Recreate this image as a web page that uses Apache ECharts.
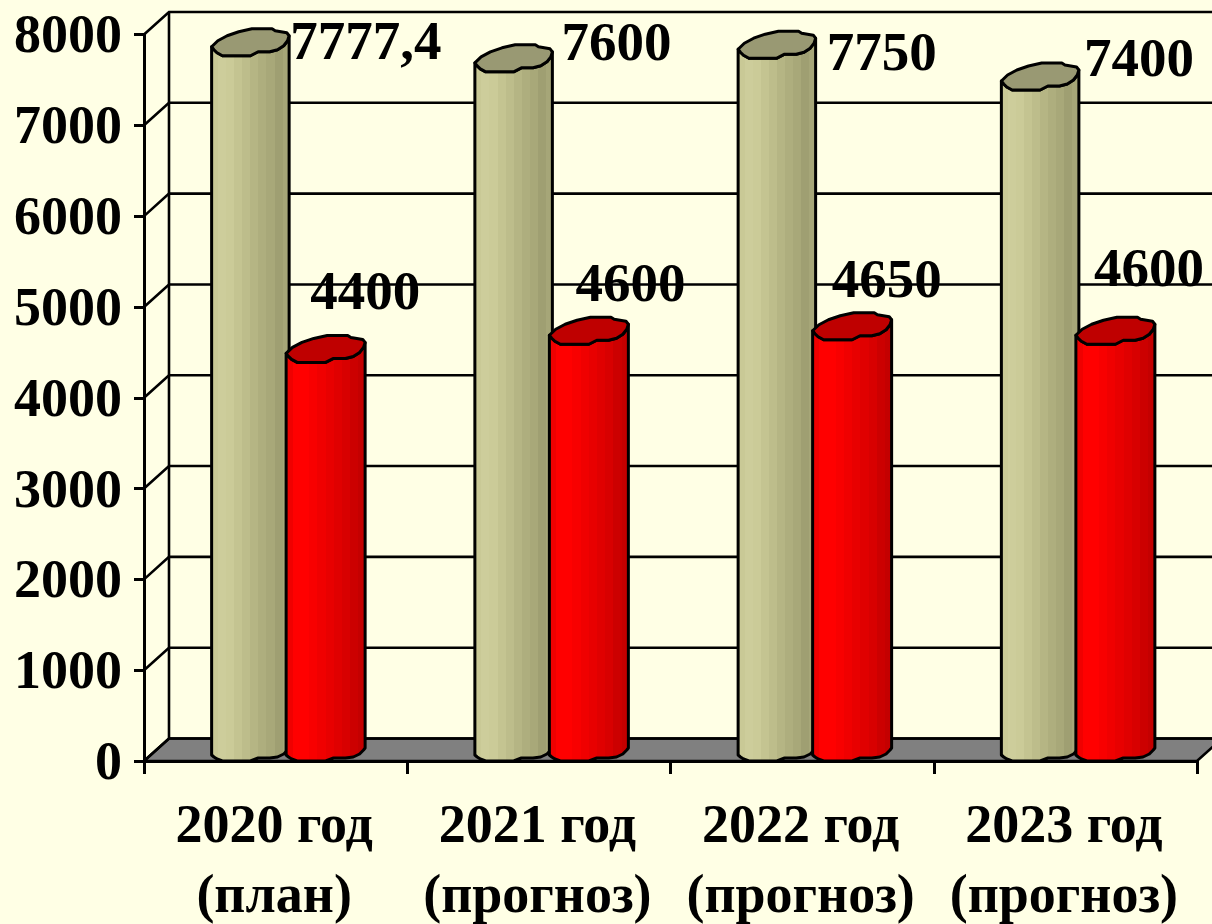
<!DOCTYPE html>
<html>
<head>
<meta charset="utf-8">
<style>html,body{margin:0;padding:0;background:#FFFFE5}#c{width:1212px;height:924px}</style>
<script src="https://cdn.jsdelivr.net/npm/echarts@6/dist/echarts.min.js"></script>
</head>
<body>
<div id="c"></div>
<script>
var categories = ['2020 год\n(план)', '2021 год\n(прогноз)', '2022 год\n(прогноз)', '2023 год\n(прогноз)'];
var planValues = [7777.4, 7600, 7750, 7400];
var factValues = [4400, 4600, 4650, 4600];
var valueTicks = [0, 1000, 2000, 3000, 4000, 5000, 6000, 7000, 8000];

var FONT = '"Liberation Serif", serif';
var DEPTH_X = 25, DEPTH_Y = 22.5;
var TOP_FRONT = [[0,3],[.03,6],[.07,9],[.14,12],[.5,12],[.6,8],[.75,8],[.85,6],[.93,2],[.98,-3],[1,-8]];
var TOP_BACK = [[.97,-11],[.82,-13],[.78,-15],[.52,-15],[.35,-12],[.2,-8],[.08,-3]];
var BASE_FRONT = [[0,5],[.03,7],[.07,9],[.14,11],[.5,11],[.6,8],[.75,8],[.85,7],[.93,4],[.98,0],[1,-2]];
var planLabelOffset = [[1,1],[9,-14],[11,10],[5,-16]];
var factLabelOffset = [[-55,-56],[-53,-45],[-60,-45],[-61,-60]];

function stepped(cols) {
  var stops = [];
  cols.forEach(function (c, i) {
    stops.push({offset: i / cols.length, color: c});
    stops.push({offset: (i + 1) / cols.length, color: c});
  });
  return {type: 'linear', x: 0, y: 0, x2: 1, y2: 0, colorStops: stops};
}
var planFill = stepped(['#C9C996','#CDCD9B','#CBCB98','#C4C491','#BDBD8B','#B5B584','#AEAE7E','#A8A879','#9F9F72','#A6A678']);
var factFill = stepped(['#F00000','#FF0000','#FF0000','#F80000','#F00000','#E80000','#E00000','#D80000','#CC0000','#C40000']);

function bar(left, width, topColor, fill, offsets, values) {
  return function (params, api) {
    var i = api.value(0), v = api.value(1);
    var c = api.coord([i, v]), b = api.coord([i, 0]);
    var x = c[0] + left, yt = c[1] - 11, yb = b[1] - 11;
    function at(y) { return function (p) { return [x + p[0] * width, y + p[1]]; }; }
    var body = TOP_FRONT.map(at(yt)).reverse().concat(BASE_FRONT.map(at(yb)));
    var top = TOP_FRONT.map(at(yt)).concat(TOP_BACK.map(at(yt)));
    var off = offsets[params.dataIndex];
    return {
      type: 'group',
      children: [
        {type: 'polygon', shape: {points: body}, style: {fill: fill, stroke: '#000', lineWidth: 3, lineJoin: 'round'}},
        {type: 'polygon', shape: {points: top}, style: {fill: topColor, stroke: '#000', lineWidth: 3, lineJoin: 'round'}},
        {type: 'text', z2: 20, style: {
          x: x + width + off[0], y: yt + off[1],
          text: String(values[params.dataIndex]).replace('.', ','),
          font: 'bold 55px ' + FONT, fill: '#000', textAlign: 'left', textVerticalAlign: 'middle'
        }}
      ]
    };
  };
}

function walls(params, api) {
  var cs = params.coordSys, v = api.value(1), y = api.coord([0, v])[1];
  var L = cs.x, R = cs.x + cs.width, line = {stroke: '#000', lineWidth: 2.6, fill: null};
  var kids = [
    {type: 'polyline', shape: {points: [[L, y], [L + DEPTH_X, y - DEPTH_Y], [R + DEPTH_X, y - DEPTH_Y]]}, style: line}
  ];
  if (params.dataIndex === 0) {
    var top = api.coord([0, valueTicks[valueTicks.length - 1]])[1];
    kids.unshift({type: 'polygon', shape: {points: [[L, y], [L + DEPTH_X, y - DEPTH_Y], [R + DEPTH_X, y - DEPTH_Y], [R, y]]},
      style: {fill: '#808080', stroke: '#000', lineWidth: 2.6}});
    kids.push({type: 'line', shape: {x1: L + DEPTH_X, y1: top - DEPTH_Y, x2: L + DEPTH_X, y2: y - DEPTH_Y}, style: line});
  }
  return {type: 'group', children: kids};
}

var chart = echarts.init(document.getElementById('c'), null, {renderer: 'canvas'});
chart.setOption({
  animation: false,
  backgroundColor: '#FFFFE5',
  grid: {left: 144, right: 15, top: 34.5, bottom: 163, containLabel: false, outerBoundsMode: 'none'},
  xAxis: {
    type: 'category', data: categories, z: 3,
    axisLine: {lineStyle: {color: '#000', width: 3}},
    axisTick: {show: true, length: 13, alignWithLabel: false, lineStyle: {color: '#000', width: 3}},
    axisLabel: {fontFamily: FONT, fontWeight: 'bold', fontSize: 54, color: '#000', margin: 32, lineHeight: 70, interval: 0, padding: [0, 3, 0, 0]}
  },
  yAxis: {
    type: 'value', min: 0, max: 8000, interval: 1000, z: 3,
    axisLine: {show: true, lineStyle: {color: '#000', width: 3}},
    axisTick: {show: true, length: 10, lineStyle: {color: '#000', width: 3}},
    splitLine: {show: false},
    axisLabel: {fontFamily: FONT, fontWeight: 'bold', fontSize: 54, color: '#000', margin: 22, showMinLabel: true, showMaxLabel: true,
      verticalAlign: 'top', lineHeight: 8, formatter: function (v) { return String(v); }}
  },
  series: [
    {type: 'custom', name: 'walls', z: 1, clip: false, silent: true, data: valueTicks.map(function (v) { return [0, v]; }), renderItem: walls},
    {type: 'custom', name: 'plan', z: 4, clip: false, silent: true, data: planValues.map(function (v, i) { return [i, v]; }),
      renderItem: bar(-64, 77.5, '#999973', planFill, planLabelOffset, planValues)},
    {type: 'custom', name: 'fact', z: 5, clip: false, silent: true, data: factValues.map(function (v, i) { return [i, v]; }),
      renderItem: bar(10.5, 79, '#BF0000', factFill, factLabelOffset, factValues)}
  ]
});
</script>
</body>
</html>
